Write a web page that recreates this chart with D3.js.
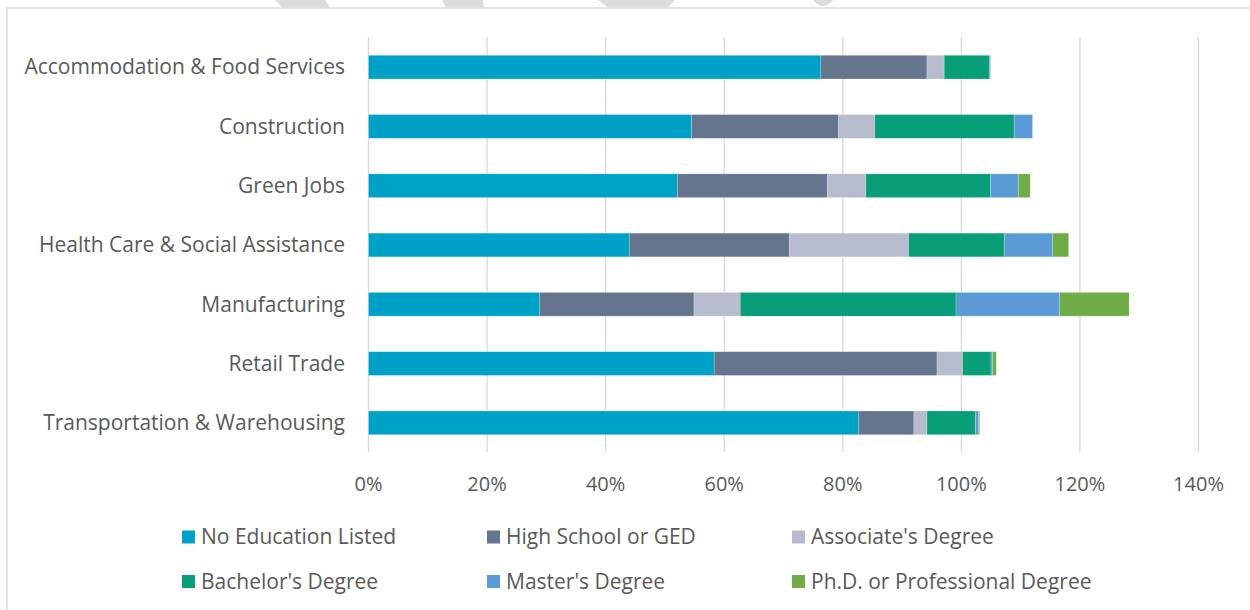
<!DOCTYPE html>
<head>
  <meta charset="utf-8">
  <script src="https://d3js.org/d3.v7.min.js"></script>
  <style>
    body { margin: 0; background: #fff; }
    text { font-family: "Open Sans", sans-serif; fill: #595959; }
  </style>
</head>
<body>
  <div id="chart"></div>
  <script>
    var width = 1250,
      height = 610;

    // categories, top to bottom
    var industries = ["Accommodation & Food Services", "Construction", "Green Jobs",
      "Health Care & Social Assistance", "Manufacturing", "Retail Trade",
      "Transportation & Warehousing"];

    var seriesNames = ["No Education Listed", "High School or GED", "Associate's Degree",
      "Bachelor's Degree", "Master's Degree", "Ph.D. or Professional Degree"];
    var colors = ["#00a1c7", "#64758d", "#b6bbcd", "#089f78", "#5a9bd5", "#70ad47"];

    // percent values per series, same order as industries
    var noEducation = [76.3, 54.5, 52.1, 44.0, 28.9, 58.3, 82.7];
    var highSchool  = [17.9, 24.8, 25.3, 27.0, 26.0, 37.6, 9.3];
    var associate   = [2.9, 6.1, 6.5, 20.1, 7.8, 4.3, 2.2];
    var bachelor    = [7.6, 23.5, 21.0, 16.2, 36.4, 4.8, 8.2];
    var master      = [0.2, 3.1, 4.7, 8.1, 17.5, 0.3, 0.5];
    var phd         = [0, 0, 2.0, 2.7, 11.7, 0.6, 0.2];

    var xTicks = [0, 20, 40, 60, 80, 100, 120, 140];

    var rows = industries.map(function(name, i) {
      return {
        name: name,
        s0: noEducation[i], s1: highSchool[i], s2: associate[i],
        s3: bachelor[i], s4: master[i], s5: phd[i]
      };
    });
    var keys = ["s0", "s1", "s2", "s3", "s4", "s5"];
    var stacked = d3.stack().keys(keys)(rows);

    var svg = d3.select("#chart").append("svg")
      .attr("width", width)
      .attr("height", height);

    // faint watermark fragments at top edge
    var marks = [
      [[275, 0], [325, 0], [330, 7.5], [282, 7.5]],
      [[442, 0], [483, 0], [484, 7.5], [446, 7.5]],
      [[598, 0], [675, 0], [668, 7.5], [608, 7.5]]
    ];
    svg.append("g").selectAll("path")
      .data(marks)
      .enter().append("path")
      .attr("d", function(d) { return "M" + d.join("L") + "Z"; })
      .attr("fill", "#dcdcdc");
    svg.append("path")
      .attr("d", "M813,0 L833,0 Q828,6 823,6 Q818,6 813,0 Z")
      .attr("fill", "#dcdcdc");

    // chart frame
    svg.append("rect")
      .attr("x", 7).attr("y", 8)
      .attr("width", width + 10).attr("height", height)
      .attr("fill", "none")
      .attr("stroke", "#d9d9d9")
      .attr("stroke-width", 1.3);

    var x = d3.scaleLinear()
      .domain([0, 140])
      .range([368.5, 1198.5]);

    var y = d3.scaleBand()
      .domain(industries)
      .range([37.5, 452.5])
      .paddingInner(0.6)
      .paddingOuter(0.3);

    // gridlines
    svg.append("g").selectAll("line")
      .data(xTicks)
      .enter().append("line")
      .attr("x1", function(d) { return x(d); })
      .attr("x2", function(d) { return x(d); })
      .attr("y1", 37)
      .attr("y2", 452)
      .attr("stroke", "#d9d9d9")
      .attr("stroke-width", 1.3);

    // bars
    svg.append("g").selectAll("g")
      .data(stacked)
      .enter().append("g")
      .attr("fill", function(d, i) { return colors[i]; })
      .selectAll("rect")
      .data(function(d) { return d; })
      .enter().append("rect")
      .attr("x", function(d) { return x(d[0]); })
      .attr("y", function(d) { return y(d.data.name); })
      .attr("width", function(d) { return x(d[1]) - x(d[0]); })
      .attr("height", y.bandwidth())
      .attr("stroke", "#ffffff")
      .attr("stroke-opacity", 0.35)
      .attr("stroke-width", 0.6);

    // category labels
    svg.append("g").selectAll("text")
      .data(industries)
      .enter().append("text")
      .attr("x", 345)
      .attr("y", function(d) { return y(d) + y.bandwidth() / 2; })
      .attr("dy", "0.35em")
      .attr("text-anchor", "end")
      .style("font-size", "21px")
      .text(function(d) { return d; });

    // x tick labels
    svg.append("g").selectAll("text")
      .data(xTicks)
      .enter().append("text")
      .attr("x", function(d) { return x(d); })
      .attr("y", 484)
      .attr("dy", "0.35em")
      .attr("text-anchor", "middle")
      .style("font-size", "20px")
      .text(function(d) { return d + "%"; });

    // legend
    var legend = svg.append("g").selectAll("g")
      .data(seriesNames)
      .enter().append("g")
      .attr("transform", function(d, i) {
        return "translate(" + (182 + (i % 3) * 305) + "," + (537 + Math.floor(i / 3) * 44.5) + ")";
      });
    legend.append("rect")
      .attr("x", 0).attr("y", -6.5)
      .attr("width", 13).attr("height", 13)
      .attr("fill", function(d, i) { return colors[i]; });
    legend.append("text")
      .attr("x", 19)
      .attr("dy", "0.35em")
      .style("font-size", "21px")
      .text(function(d) { return d; });
  </script>
</body>
</html>
